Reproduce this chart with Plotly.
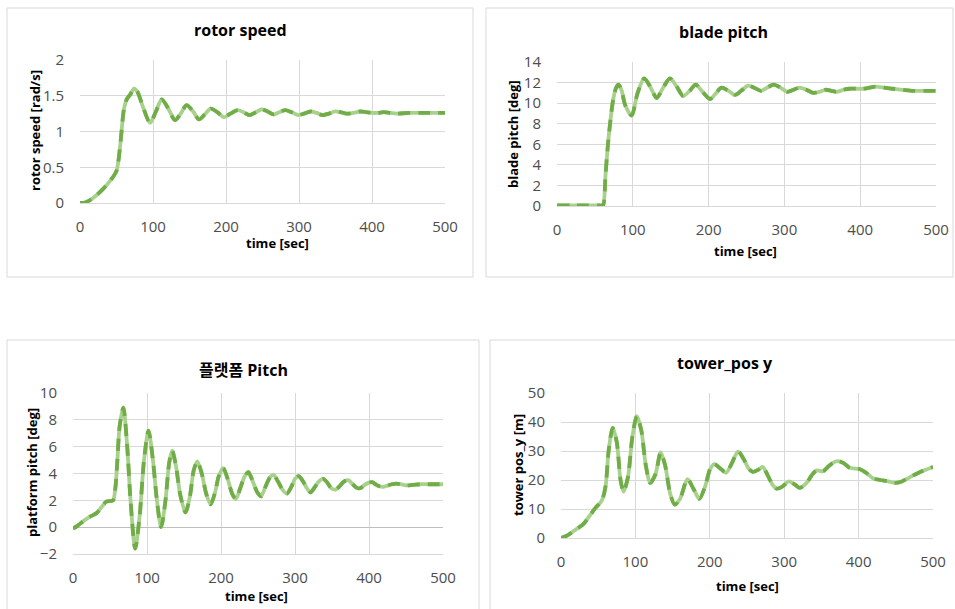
import plotly.graph_objects as go

W, H = 955, 609

# ---------------- data ----------------
rotor_t = [0, 8, 18, 30, 42, 50, 55, 60, 64, 69, 74, 79, 86, 96, 104, 112, 121, 130, 138, 146, 155, 163, 171, 179, 188, 197,
           206, 216, 224, 232, 241, 249, 257, 265, 273, 281, 290, 299, 307, 316, 324, 332, 341, 349, 357, 365, 374, 384,
           392, 400, 408, 416, 425, 434, 450, 470, 500]
rotor_v = [0.0, 0.01, 0.07, 0.18, 0.32, 0.45, 0.8, 1.3, 1.45, 1.52, 1.6, 1.55, 1.35, 1.12, 1.28, 1.45, 1.32, 1.16, 1.25, 1.37, 1.28, 1.17, 1.24, 1.32, 1.27, 1.2,
           1.25, 1.3, 1.27, 1.23, 1.27, 1.31, 1.28, 1.24, 1.27, 1.3, 1.27, 1.23, 1.25, 1.28, 1.26, 1.23, 1.25, 1.28, 1.27, 1.25, 1.26, 1.28,
           1.27, 1.26, 1.26, 1.27, 1.26, 1.25, 1.26, 1.26, 1.26]

pitch_t = [0, 20, 40, 55, 59, 61, 64, 67, 70, 74, 78, 81, 85, 90, 98.5, 106, 115, 123, 131.5, 140, 149, 158, 166.5, 175, 183, 192, 202,
           209, 217, 226, 235, 243, 252, 260, 269, 277, 286, 295, 304, 312, 320, 329, 338, 346, 354, 362, 369, 378, 386, 395, 404,
           412, 420, 432, 443, 456, 470, 485, 500]
pitch_v = [0.05, 0.05, 0.05, 0.05, 0.05, 0.1, 3.0, 5.8, 8.0, 10.3, 11.5, 11.8, 11.3, 9.8, 8.8, 10.9, 12.4, 11.6, 10.5, 11.5, 12.4, 11.6, 10.7, 11.2, 11.8, 11.1, 10.4,
           10.9, 11.5, 11.2, 10.8, 11.2, 11.7, 11.5, 11.2, 11.5, 11.8, 11.5, 11.1, 11.3, 11.5, 11.3, 11.0, 11.1, 11.3, 11.2, 11.1, 11.3, 11.4, 11.4, 11.4,
           11.5, 11.6, 11.5, 11.4, 11.3, 11.2, 11.2, 11.2]

plat_t = [0, 6, 14, 23, 32, 40, 45, 54, 57, 60, 63, 68, 73, 78, 84, 90, 96, 102, 108, 113, 119, 125, 130, 134, 139, 145, 152, 158, 163, 168,
          174, 180, 186, 192, 197, 203, 209, 215, 220, 226, 232, 237, 243, 249, 254, 260, 266, 271, 277, 283, 289, 295, 300, 305,
          311, 316, 321, 327, 332, 338, 344, 349, 355, 361, 366, 372, 378, 383, 388, 394, 399, 404, 410, 414, 419, 425, 431, 437,
          443, 450, 459, 469, 480, 500]
plat_v = [-0.1, 0.1, 0.45, 0.78, 1.05, 1.6, 1.9, 2.0, 2.8, 5.0, 7.5, 8.9, 6.2, 1.8, -1.6, 0.8, 5.0, 7.2, 5.0, 2.2, 0.0, 2.0, 4.8, 5.7, 4.6, 2.4, 1.1, 2.3, 4.2, 4.9,
          4.0, 2.5, 1.7, 2.6, 3.8, 4.4, 3.6, 2.5, 2.1, 2.9, 3.8, 4.1, 3.4, 2.6, 2.3, 3.0, 3.7, 3.9, 3.4, 2.8, 2.5, 3.0, 3.6, 3.8,
          3.4, 2.9, 2.6, 3.0, 3.4, 3.6, 3.3, 2.9, 2.8, 3.1, 3.4, 3.5, 3.2, 2.95, 2.9, 3.15, 3.3, 3.35, 3.15, 3.05, 3.0, 3.1, 3.2, 3.25,
          3.2, 3.12, 3.15, 3.2, 3.2, 3.2]

tower_t = [0, 8, 18, 30, 40, 46, 55, 60, 64, 69.5, 75, 80, 84, 90, 96, 102, 108, 114, 120, 127, 134, 140, 147, 153, 160, 170, 178, 186,
           194, 200, 206, 214, 222, 230, 238, 246, 252, 258, 265, 271, 278, 284, 290, 298, 306, 314, 321, 330, 338, 344, 352, 360, 366,
           372, 380, 388, 393, 402, 410, 420, 429, 440, 449, 458, 469, 485, 500]
tower_v = [0.0, 0.8, 2.6, 4.8, 8.2, 10.3, 13.0, 18.0, 30.0, 38.0, 33.0, 20.0, 16.0, 21.0, 35.0, 42.0, 37.0, 25.0, 19.0, 22.0, 29.5, 25.0, 15.0, 11.5, 13.5, 20.3, 17.0, 13.5,
           18.0, 23.5, 25.5, 24.0, 22.5, 26.0, 29.8, 27.0, 24.0, 22.8, 23.5, 24.5, 21.5, 18.5, 17.0, 17.8, 19.5, 18.5, 17.3, 19.0, 22.0, 23.3, 23.0, 24.8, 26.0,
           26.5, 25.8, 24.2, 24.0, 23.7, 22.5, 20.5, 20.0, 19.5, 19.0, 19.5, 21.0, 23.0, 24.5]

x_ticks = [0, 100, 200, 300, 400, 500]

panels = [
    dict(t=rotor_t, v=rotor_v, title="rotor speed", ytitle="rotor speed [rad/s]", yr=[0, 2], dt=0.5,
         box=(7, 8, 473, 277), plot=(80, 60, 445, 203), tpos=(240, 30), xt=(277, 243), yt=(35, 131)),
    dict(t=pitch_t, v=pitch_v, title="blade pitch", ytitle="blade pitch [deg]", yr=[0, 14], dt=2,
         box=(486, 8, 953, 277), plot=(557, 62, 936, 206), tpos=(723, 32), xt=(745, 251), yt=(513, 134)),
    dict(t=plat_t, v=plat_v, title="플랫폼 Pitch", ytitle="platform pitch [deg]", yr=[-2, 10], dt=2,
         box=(7, 340, 479, 615), plot=(73, 393, 443, 554), tpos=(243, 370), xt=(256, 596), yt=(32, 473)),
    dict(t=tower_t, v=tower_v, title="tower_pos y", ytitle="tower pos_y [m]", yr=[0, 50], dt=10,
         box=(490, 340, 962, 615), plot=(561, 393, 933, 538), tpos=(725, 363), xt=(747, 586), yt=(518, 465)),
]

LIGHT = "#a9d18e"
DARK = "#70ad47"
GRID = "#d9d9d9"
TICK = "#4d4d4d"
FONT = "Open Sans, Noto Sans CJK KR, sans-serif"

def fx(px):
    return px / W

def fy(py):
    return 1 - py / H

fig = go.Figure()
shapes = []
annotations = []
layout = {}

for i, p in enumerate(panels, start=1):
    xa = "x" if i == 1 else f"x{i}"
    ya = "y" if i == 1 else f"y{i}"
    for col, dash, wid in [(LIGHT, "solid", 3.8), (DARK, "12px,8px", 3.8)]:
        fig.add_trace(go.Scatter(x=p["t"], y=p["v"], mode="lines", xaxis=xa, yaxis=ya,
                                 line=dict(color=col, width=wid, dash=dash, shape="spline", smoothing=0.8),
                                 showlegend=False, hoverinfo="skip"))
    x0, y0, x1, y1 = p["plot"]
    layout["xaxis" if i == 1 else f"xaxis{i}"] = dict(
        domain=[fx(x0), fx(x1)], anchor=ya, range=[0, 500], tickvals=x_ticks,
        showgrid=True, gridcolor=GRID, gridwidth=1, zeroline=False,
        showline=True, linecolor=GRID, linewidth=1, automargin=False,
        ticks="outside", ticklen=10, tickcolor="rgba(0,0,0,0)",
        tickfont=dict(family=FONT, size=15, color=TICK), fixedrange=True)
    lo, hi = p["yr"]
    yv = []
    v = lo
    while v <= hi + 1e-9:
        yv.append(round(v, 3))
        v += p["dt"]
    layout["yaxis" if i == 1 else f"yaxis{i}"] = dict(
        domain=[fy(y1), fy(y0)], anchor=xa, range=[lo, hi], tickvals=yv,
        showgrid=True, gridcolor=GRID, gridwidth=1,
        zeroline=(lo < 0), zerolinecolor="#bfbfbf", zerolinewidth=1,
        showline=False, automargin=False,
        ticks="outside", ticklen=12, tickcolor="rgba(0,0,0,0)",
        tickfont=dict(family=FONT, size=15, color=TICK), fixedrange=True)
    bx0, by0, bx1, by1 = p["box"]
    shapes.append(dict(type="rect", xref="paper", yref="paper", x0=fx(bx0), x1=fx(bx1), y0=fy(by1), y1=fy(by0),
                       line=dict(color=GRID, width=1), fillcolor="rgba(0,0,0,0)", layer="below"))
    annotations.append(dict(text=f"<b>{p['title']}</b>", x=fx(p["tpos"][0]), y=fy(p["tpos"][1]), xref="paper", yref="paper",
                            showarrow=False, xanchor="center", yanchor="middle",
                            font=dict(family=FONT, size=16, color="#000000")))
    annotations.append(dict(text="<b>time [sec]</b>", x=fx(p["xt"][0]), y=fy(p["xt"][1]), xref="paper", yref="paper",
                            showarrow=False, xanchor="center", yanchor="middle",
                            font=dict(family=FONT, size=13, color="#000000")))
    annotations.append(dict(text=f"<b>{p['ytitle']}</b>", x=fx(p["yt"][0]), y=fy(p["yt"][1]), xref="paper", yref="paper",
                            showarrow=False, xanchor="center", yanchor="middle", textangle=-90,
                            font=dict(family=FONT, size=13, color="#000000")))

fig.update_layout(width=W, height=H, margin=dict(l=0, r=0, t=0, b=0, autoexpand=False),
                  paper_bgcolor="white", plot_bgcolor="white",
                  shapes=shapes, annotations=annotations, **layout)

fig.write_html("out.html", config={"displayModeBar": False},
               post_script="document.body.style.margin='0px';document.body.style.overflow='hidden';")
